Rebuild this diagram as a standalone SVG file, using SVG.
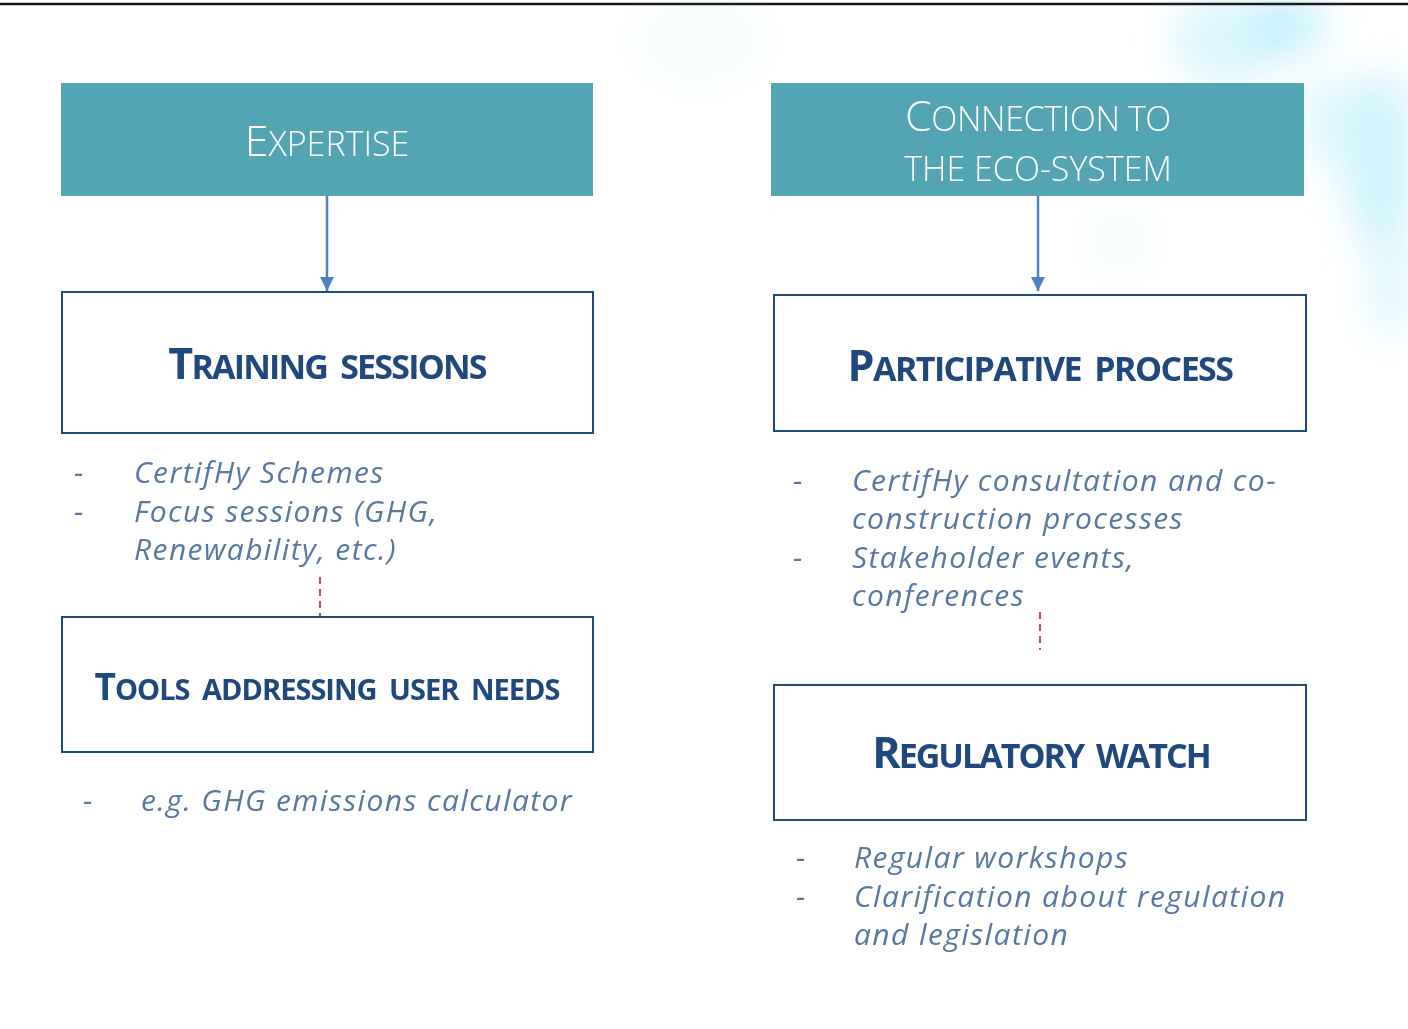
<svg xmlns="http://www.w3.org/2000/svg" width="1408" height="1029" viewBox="0 0 1408 1029">
<defs>
<style>
.hdr{fill:#53A5B3}
.hdrt{font-family:"Open Sans","Liberation Sans",sans-serif;font-weight:300;fill:#FFFFFF;text-anchor:middle}
.box{fill:#FFFFFF;stroke:#1F497D;stroke-width:2}
.ttl{font-family:"Open Sans","Liberation Sans",sans-serif;font-weight:700;fill:#1F497D;text-anchor:middle;word-spacing:6px}
.bul{font-family:"Open Sans","Liberation Sans",sans-serif;font-style:italic;fill:#5878A0;font-size:30px;letter-spacing:1.4px}
.arrow{stroke:#4F81BD;stroke-width:2.5;fill:none}
.dash{stroke:#C0504D;stroke-width:2;stroke-dasharray:7,5;fill:none}
</style>
<marker id="ah" markerWidth="14" markerHeight="16" refX="14" refY="7" orient="auto" markerUnits="userSpaceOnUse">
<path d="M0,0 L14,7 L0,14 Z" fill="#4F81BD"/>
</marker>
<filter id="blur" x="-50%" y="-50%" width="200%" height="200%"><feGaussianBlur stdDeviation="18"/></filter>
</defs>
<rect width="1408" height="1029" fill="#FFFFFF"/>
<g id="background" filter="url(#blur)">
<ellipse cx="1230" cy="40" rx="60" ry="45" fill="#BDEFFB" opacity="0.55"/>
<ellipse cx="1290" cy="25" rx="40" ry="30" fill="#A8E8FA" opacity="0.55"/>
<ellipse cx="1380" cy="160" rx="40" ry="90" fill="#B0EAFB" opacity="0.55"/>
<ellipse cx="1330" cy="120" rx="35" ry="45" fill="#C8F2FC" opacity="0.55"/>
<ellipse cx="1390" cy="280" rx="25" ry="60" fill="#C8F2FC" opacity="0.55"/>
<ellipse cx="700" cy="40" rx="70" ry="50" fill="#F3FBFD" opacity="0.6"/>
<ellipse cx="1120" cy="240" rx="40" ry="40" fill="#F3FBFD" opacity="0.6"/>
</g>
<line x1="0" y1="4" x2="1408" y2="4" stroke="#1A1A1A" stroke-width="2.5"/>
<g id="connectors">
<line class="arrow" x1="327" y1="196" x2="327" y2="291" marker-end="url(#ah)"/>
<line class="arrow" x1="1038" y1="196" x2="1038" y2="291" marker-end="url(#ah)"/>
<line class="dash" x1="320" y1="577" x2="320" y2="616"/>
<line class="dash" x1="1040" y1="612" x2="1040" y2="650"/>
</g>
<g id="expertise">
<rect class="hdr" x="61" y="83" width="532" height="113"/>
<text class="hdrt" x="327" y="156" font-size="34"><tspan font-size="43">E</tspan>XPERTISE</text>
</g>
<g id="connection">
<rect class="hdr" x="771" y="83" width="533" height="113"/>
<text class="hdrt" x="1038" y="131" font-size="34" letter-spacing="-0.4"><tspan font-size="43">C</tspan>ONNECTION TO</text>
<text class="hdrt" x="1038" y="181" font-size="34">THE ECO-SYSTEM</text>
</g>
<g id="training">
<rect class="box" x="62" y="292" width="531" height="141"/>
<text class="ttl" x="327" y="379" font-size="34" letter-spacing="-1.8"><tspan font-size="43">T</tspan>RAINING SESSIONS</text>
</g>
<g id="training-items">
<text class="bul" x="74" y="483">-</text>
<text class="bul" x="134" y="483">CertifHy Schemes</text>
<text class="bul" x="74" y="522">-</text>
<text class="bul" x="134" y="522">Focus sessions (GHG,</text>
<text class="bul" x="134" y="560">Renewability, etc.)</text>
</g>
<g id="participative">
<rect class="box" x="774" y="295" width="532" height="136"/>
<text class="ttl" x="1040" y="381" font-size="34" letter-spacing="-1.55"><tspan font-size="43">P</tspan>ARTICIPATIVE PROCESS</text>
</g>
<g id="participative-items">
<text class="bul" x="793" y="491">-</text>
<text class="bul" x="852" y="491">CertifHy consultation and co-</text>
<text class="bul" x="852" y="529">construction processes</text>
<text class="bul" x="793" y="568">-</text>
<text class="bul" x="852" y="568">Stakeholder events,</text>
<text class="bul" x="852" y="606">conferences</text>
</g>
<g id="tools">
<rect class="box" x="62" y="617" width="531" height="135"/>
<text class="ttl" x="327" y="700" font-size="29" letter-spacing="-1"><tspan font-size="37">T</tspan>OOLS ADDRESSING USER NEEDS</text>
</g>
<g id="tools-items">
<text class="bul" x="83" y="811">-</text>
<text class="bul" x="141" y="811">e.g. GHG emissions calculator</text>
</g>
<g id="regulatory">
<rect class="box" x="774" y="685" width="532" height="135"/>
<text class="ttl" x="1041" y="768" font-size="34" letter-spacing="-2"><tspan font-size="43">R</tspan>EGULATORY WATCH</text>
</g>
<g id="regulatory-items">
<text class="bul" x="796" y="868">-</text>
<text class="bul" x="854" y="868">Regular workshops</text>
<text class="bul" x="796" y="907">-</text>
<text class="bul" x="854" y="907">Clarification about regulation</text>
<text class="bul" x="854" y="945">and legislation</text>
</g>
</svg>
